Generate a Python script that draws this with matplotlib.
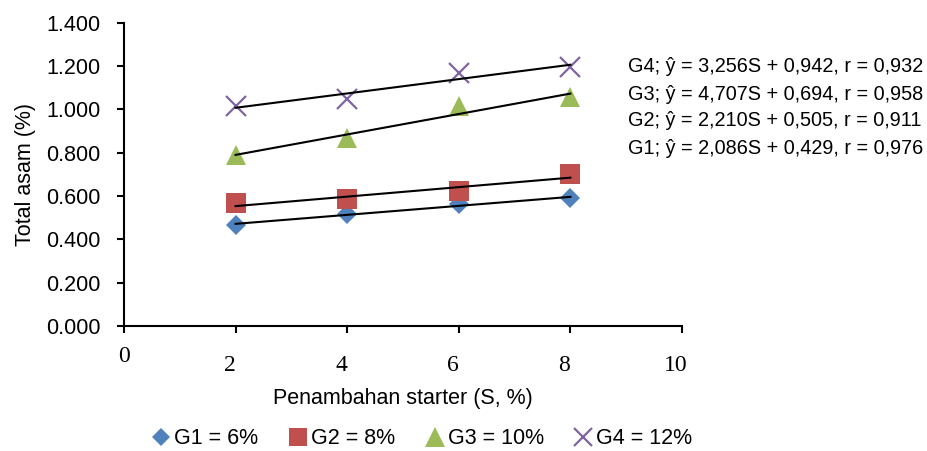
import numpy as np
import matplotlib
matplotlib.use("Agg")
import matplotlib.pyplot as plt
from matplotlib.transforms import ScaledTranslation

plt.rcParams['font.family'] = ['Liberation Sans', 'DejaVu Sans']

# starter addition (S, %)
starter = [2, 4, 6, 8]

# total acid (%) per sugar level
g1 = [0.467, 0.516, 0.562, 0.590]
g2 = [0.567, 0.585, 0.624, 0.700]
g3 = [0.790, 0.866, 1.014, 1.055]
g4 = [1.014, 1.049, 1.168, 1.195]

series_labels = ["G1 = 6%", "G2 = 8%", "G3 = 10%", "G4 = 12%"]
equations = [
    "G4; ŷ = 3,256S + 0,942, r = 0,932",
    "G3; ŷ = 4,707S + 0,694, r = 0,958",
    "G2; ŷ = 2,210S + 0,505, r = 0,911",
    "G1; ŷ = 2,086S + 0,429, r = 0,976",
]

colors = ["#4F81BD", "#C0504D", "#9BBB59", "#8064A2"]
markers = ["D", "s", "^", "x"]
sizes = [9.8, 14, 14.5, 14]

fig = plt.figure(figsize=(9.28, 4.51), dpi=100)
ax = fig.add_axes([0.1336, 0.2772, 0.6013, 0.6725])

x = np.array(starter)
for ys, lab, c, m, ms in zip([g1, g2, g3, g4], series_labels, colors, markers, sizes):
    if m == "x":
        ax.plot(x, ys, linestyle="none", marker=m, color=c, markersize=ms,
                markeredgewidth=1.6, label=lab, zorder=2)
    else:
        ax.plot(x, ys, linestyle="none", marker=m, color=c, markersize=ms,
                markeredgewidth=0, label=lab, zorder=2)
    # linear trend line
    k, b = np.polyfit(x, ys, 1)
    ax.plot(x[[0, -1]], k * x[[0, -1]] + b, color="black", lw=1.5, zorder=3)

ax.set_xlim(0, 10)
ax.set_ylim(0, 1.4)
ax.set_xticks([0, 2, 4, 6, 8, 10])
ax.set_yticks(np.arange(0, 1.41, 0.2))
ax.set_yticklabels([f"{v:.3f}" for v in np.arange(0, 1.41, 0.2)], fontsize=15.5)
ax.set_xticklabels(["0", "2", "4", "6", "8", "10"], fontsize=17,
                   family="Liberation Serif")

for side in ["top", "right"]:
    ax.spines[side].set_visible(False)
for side in ["left", "bottom"]:
    ax.spines[side].set_linewidth(1.5)
ax.tick_params(axis="y", direction="out", length=5, width=1.5, pad=12)
ax.tick_params(axis="x", direction="out", length=5, width=1.5, pad=16)

# the "0" label sits a bit higher in the original, the others a bit to the left
xlabels = ax.get_xticklabels()
for i, lbl in enumerate(xlabels):
    if i == 0:
        off = ScaledTranslation(0, 9 / 100, fig.dpi_scale_trans)
    else:
        off = ScaledTranslation(-6 / 100, 0, fig.dpi_scale_trans)
    lbl.set_transform(lbl.get_transform() + off)

ax.set_xlabel("Penambahan starter (S, %)", fontsize=15.5)
ax.xaxis.set_label_coords(0.5, -0.205)
ax.set_ylabel("Total asam (%)", fontsize=15.5)
ax.yaxis.set_label_coords(-0.158, 0.5)

for i, eq in enumerate(equations):
    fig.text(628 / 928, 1 - (67 + 27 * i) / 451, eq, fontsize=14.3, va="center", ha="left")

fig.legend(loc="center", bbox_to_anchor=(0.454, 0.027), ncol=4, frameon=False,
           fontsize=15.5, markerscale=0.95, handletextpad=0.1, columnspacing=1.35,
           handlelength=1.0)

fig.savefig("out.png", dpi=100)
